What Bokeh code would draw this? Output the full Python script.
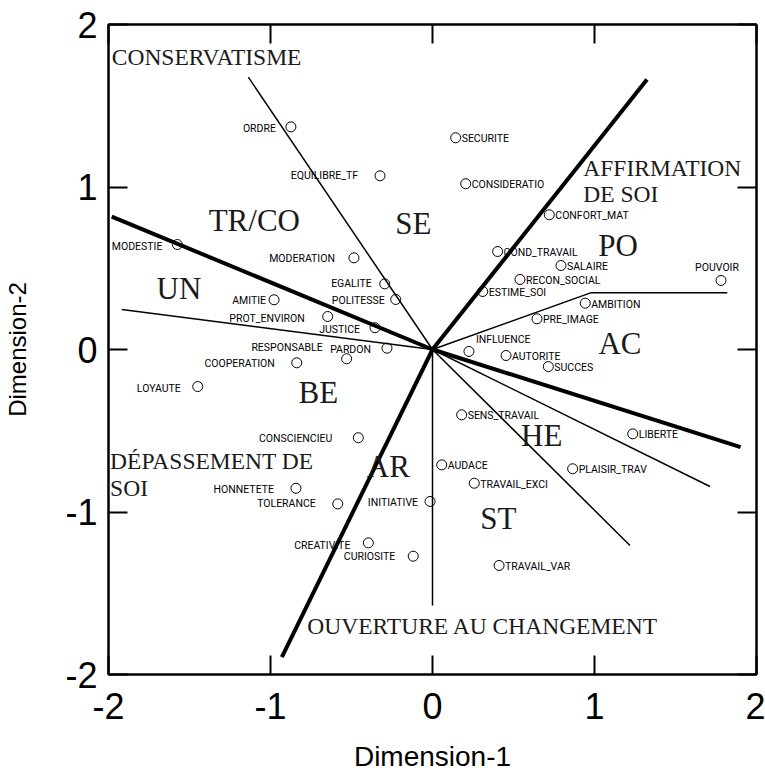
from bokeh.plotting import figure
from bokeh.models import Range1d, FixedTicker, LinearAxis, ColumnDataSource
from bokeh.core.properties import value
from bokeh.embed import file_html
from bokeh.resources import INLINE

# ---- data ----
names = ["ORDRE", "EQUILIBRE_TF", "SECURITE", "CONSIDERATIO", "CONFORT_MAT", "MODESTIE",
         "MODERATION", "COND_TRAVAIL", "SALAIRE", "POUVOIR", "EGALITE", "RECON_SOCIAL",
         "POLITESSE", "AMITIE", "ESTIME_SOI", "AMBITION", "PROT_ENVIRON", "PRE_IMAGE",
         "JUSTICE", "RESPONSABLE", "PARDON", "INFLUENCE", "AUTORITE", "COOPERATION",
         "SUCCES", "LOYAUTE", "SENS_TRAVAIL", "LIBERTE", "CONSCIENCIEU", "AUDACE",
         "PLAISIR_TRAV", "TRAVAIL_EXCI", "HONNETETE", "INITIATIVE", "TOLERANCE",
         "CREATIVITE", "CURIOSITE", "TRAVAIL_VAR"]
dim1 = [-0.874, -0.324, 0.143, 0.205, 0.721, -1.575,
        -0.485, 0.402, 0.793, 1.781, -0.295, 0.540,
        -0.227, -0.978, 0.310, 0.943, -0.647, 0.645,
        -0.355, -0.530, -0.281, 0.225, 0.454, -0.838,
        0.715, -1.449, 0.180, 1.236, -0.458, 0.057,
        0.865, 0.258, -0.843, -0.015, -0.585,
        -0.396, -0.119, 0.411]
dim2 = [1.370, 1.069, 1.303, 1.020, 0.829, 0.646,
        0.564, 0.603, 0.517, 0.425, 0.404, 0.431,
        0.308, 0.306, 0.357, 0.285, 0.203, 0.189,
        0.134, -0.057, 0.008, -0.012, -0.037, -0.082,
        -0.105, -0.228, -0.402, -0.519, -0.543, -0.710,
        -0.734, -0.823, -0.854, -0.935, -0.950,
        -1.190, -1.272, -1.329]

# label placement (style): side, horizontal gap (px), vertical shift (px, down +)
label_side = ["L", "L", "R", "R", "R", "L",
              "L", "R", "R", "T", "L", "R",
              "L", "L", "R", "R", "L", "R",
              "L", "L", "L", "R", "R", "L",
              "R", "L", "R", "R", "L", "R",
              "R", "R", "L", "L", "L",
              "L", "L", "R"]
label_gap = [15, 22, 6, 6, 6, 15,
             19, 6, 6, -4, 13, 6,
             11, 8, 6, 6, 23, 6,
             15, 24, 16, 7, 6, 22,
             6, 17, 6, 6, 26, 6,
             6, 6, 22, 12, 22,
             18, 18, 6]
label_dy = [1.5, 0, 1, 1, 1, 1.5,
            1, 1, 1, -12.5, 0, 1,
            1, 1, 1, 1, 2, 1,
            2, -11.6, 1, -12, 1, 1,
            1, 1.5, 1, 1, 1, 1,
            1, 1, 1.5, 0.7, 0,
            2.7, 0, 1]

# axes of the value structure (drawn from the origin)
thick_end_x = [-1.98, 1.324, 1.902, -0.93]
thick_end_y = [0.818, 1.662, -0.601, -1.893]
thin_xs = [[0, -1.137], [0, -1.918], [0, 0], [0, 0.98, 1.82], [0, 1.713], [0, 1.219]]
thin_ys = [[0, 1.676], [0, 0.246], [0, -1.575], [0, 0.35, 0.35], [0, -0.843], [0, -1.206]]

# region labels
region_codes = ["TR/CO", "SE", "PO", "UN", "AC", "BE", "HE", "AR", "ST"]
region_x = [-1.10, -0.118, 1.145, -1.565, 1.157, -0.705, 0.674, -0.273, 0.406]
region_y = [0.794, 0.774, 0.64, 0.374, 0.039, -0.263, -0.529, -0.72, -1.042]

higher_values = ["CONSERVATISME", "AFFIRMATION", "DE SOI", "DÉPASSEMENT DE", "SOI",
                 "OUVERTURE AU CHANGEMENT"]
higher_x = [-1.98, 0.931, 0.931, -1.99, -1.99, -0.773]
higher_y = [1.80, 1.118, 0.954, -0.689, -0.855, -1.70]

ticks = [-2, -1, 0, 1, 2]
tick_labels = {-2: "-2", -1: "-1", 0: "0", 1: "1", 2: "2"}

# ---- figure ----
p = figure(frame_width=648, frame_height=650, x_range=Range1d(-2, 2), y_range=Range1d(-2, 2),
           output_backend="svg", toolbar_location=None,
           min_border_left=108, min_border_right=9, min_border_top=24, min_border_bottom=100)
p.grid.visible = False
p.outline_line_color = "black"
p.outline_line_width = 2
p.background_fill_color = "white"
p.border_fill_color = "white"

SANS = "Liberation Sans"
SMALL = "Roboto"
SERIF = "Liberation Serif"


def style_axis(ax, labels=True):
    ax.ticker = FixedTicker(ticks=ticks)
    ax.major_tick_in = 19
    ax.major_tick_out = 0
    ax.minor_tick_line_color = None
    ax.axis_line_width = 2
    ax.axis_line_color = "black"
    ax.major_tick_line_width = 2
    ax.major_tick_line_color = "black"
    if labels:
        ax.major_label_overrides = tick_labels
        ax.major_label_text_font = SANS
        ax.major_label_text_font_size = "36px"
        ax.major_label_text_color = "black"
    else:
        ax.major_label_text_font_size = "0px"
        ax.major_label_text_color = None
        ax.major_label_standoff = 0


style_axis(p.xaxis[0])
style_axis(p.yaxis[0])
p.xaxis[0].major_label_standoff = 18
p.yaxis[0].major_label_standoff = 11
p.xaxis[0].axis_label = "Dimension-1"
p.yaxis[0].axis_label = "Dimension-2"
for ax, fs, so in ((p.xaxis[0], "28px", 19), (p.yaxis[0], "24px", 31)):
    ax.axis_label_text_font = SANS
    ax.axis_label_text_font_size = fs
    ax.axis_label_text_font_style = "normal"
    ax.axis_label_text_color = "black"
    ax.axis_label_standoff = so

top_ax = LinearAxis()
right_ax = LinearAxis()
style_axis(top_ax, labels=False)
style_axis(right_ax, labels=False)
p.add_layout(top_ax, "above")
p.add_layout(right_ax, "right")

# lines
p.multi_line(xs=thin_xs, ys=thin_ys, line_color="black", line_width=1.5)
p.multi_line(xs=[[0, x] for x in thick_end_x], ys=[[0, y] for y in thick_end_y],
             line_color="black", line_width=4)

# points
p.scatter(x=dim1, y=dim2, marker="circle", size=10, fill_color=None,
          line_color="black", line_width=1)

# point labels
aligns, xoffs = [], []
for s, g in zip(label_side, label_gap):
    if s == "L":
        aligns.append("right"); xoffs.append(-g)
    elif s == "R":
        aligns.append("left"); xoffs.append(g)
    else:
        aligns.append("center"); xoffs.append(g)
src = ColumnDataSource(dict(x=dim1, y=dim2, t=names, al=aligns, xo=xoffs, yo=label_dy))
p.text(x="x", y="y", text="t", source=src, text_align="al", x_offset="xo", y_offset="yo",
       text_baseline="middle", text_font=value(SMALL), text_font_size="10.5px",
       text_color="black")

# region codes
p.text(x=region_x, y=region_y, text=region_codes, text_align="center",
       text_baseline="middle", text_font=value(SERIF), text_font_size="31px",
       text_color="#1a1a1a")

# higher-order values
p.text(x=higher_x, y=higher_y, text=higher_values, text_align="left",
       text_baseline="middle", text_font=value(SERIF), text_font_size="23.5px",
       text_color="#1a1a1a")

open("out.html", "w").write(file_html(p, INLINE))
